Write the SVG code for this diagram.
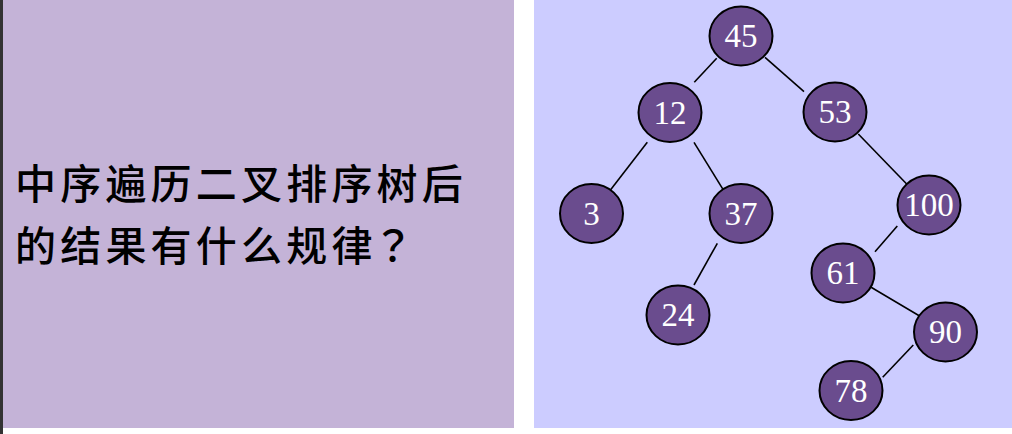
<svg xmlns="http://www.w3.org/2000/svg" width="1012" height="434" viewBox="0 0 1012 434">
<style>
.node ellipse{fill:#6A4C8E;stroke:#000;stroke-width:2}
.node text{fill:#fff;font-family:"Liberation Serif","Times New Roman",serif;font-size:33px;text-anchor:middle}
.edges line{stroke:#000;stroke-width:1.6}
.q{font-family:"Noto Sans CJK SC","Noto Sans",sans-serif;font-size:41px;font-weight:500;fill:#000}
.qm{font-family:"Noto Sans CJK JP","Noto Sans CJK SC",sans-serif}
</style>
<rect x="0" y="0" width="1012" height="434" fill="#fff"/>
<rect x="0" y="0" width="514" height="428" fill="#C4B3D7"/>
<rect x="0" y="0" width="3" height="434" fill="#333"/>
<rect x="534" y="0" width="478" height="428" fill="#CCCCFF"/>
<text class="q" x="15 60.2 105.4 150.6 195.8 241 286.2 331.4 376.6 421.8" y="199">中序遍历二叉排序树后</text>
<text class="q" x="15 60.2 105.4 150.6 195.8 241 286.2 331.4" y="261">的结果有什么规律<tspan class="qm" x="372.6">？</tspan></text>
<g class="edges">
<line x1="716.7" y1="58.3" x2="694.3" y2="82.3"/>
<line x1="765" y1="57.3" x2="804" y2="91.7"/>
<line x1="647.3" y1="142.3" x2="608.3" y2="192.7"/>
<line x1="694" y1="142.3" x2="725" y2="192.7"/>
<line x1="717.3" y1="243.3" x2="694" y2="285"/>
<line x1="858.3" y1="134" x2="906.7" y2="184"/>
<line x1="897.3" y1="226" x2="875" y2="251.7"/>
<line x1="867.3" y1="285" x2="921.7" y2="317.3"/>
<line x1="913.3" y1="345" x2="882.7" y2="377.3"/>
</g>
<g id="n45" class="node"><ellipse cx="741" cy="36" rx="31.5" ry="29.5"/><text x="741" y="47">45</text></g>
<g id="n12" class="node"><ellipse cx="670" cy="112.5" rx="31.5" ry="29.5"/><text x="670" y="123.5">12</text></g>
<g id="n53" class="node"><ellipse cx="835" cy="112" rx="31.5" ry="29.5"/><text x="835" y="123">53</text></g>
<g id="n3" class="node"><ellipse cx="591.5" cy="213.5" rx="31.5" ry="29.5"/><text x="591.5" y="224.5">3</text></g>
<g id="n37" class="node"><ellipse cx="741" cy="213.5" rx="31.5" ry="29.5"/><text x="741" y="224.5">37</text></g>
<g id="n100" class="node"><ellipse cx="929" cy="205" rx="31.5" ry="29.5"/><text x="929" y="216">100</text></g>
<g id="n24" class="node"><ellipse cx="678" cy="315" rx="31.5" ry="29.5"/><text x="678" y="326">24</text></g>
<g id="n61" class="node"><ellipse cx="843" cy="273" rx="31.5" ry="29.5"/><text x="843" y="284">61</text></g>
<g id="n90" class="node"><ellipse cx="945.5" cy="332" rx="31.5" ry="29.5"/><text x="945.5" y="343">90</text></g>
<g id="n78" class="node"><ellipse cx="851" cy="390.5" rx="31.5" ry="29.5"/><text x="851" y="401.5">78</text></g>
</svg>
